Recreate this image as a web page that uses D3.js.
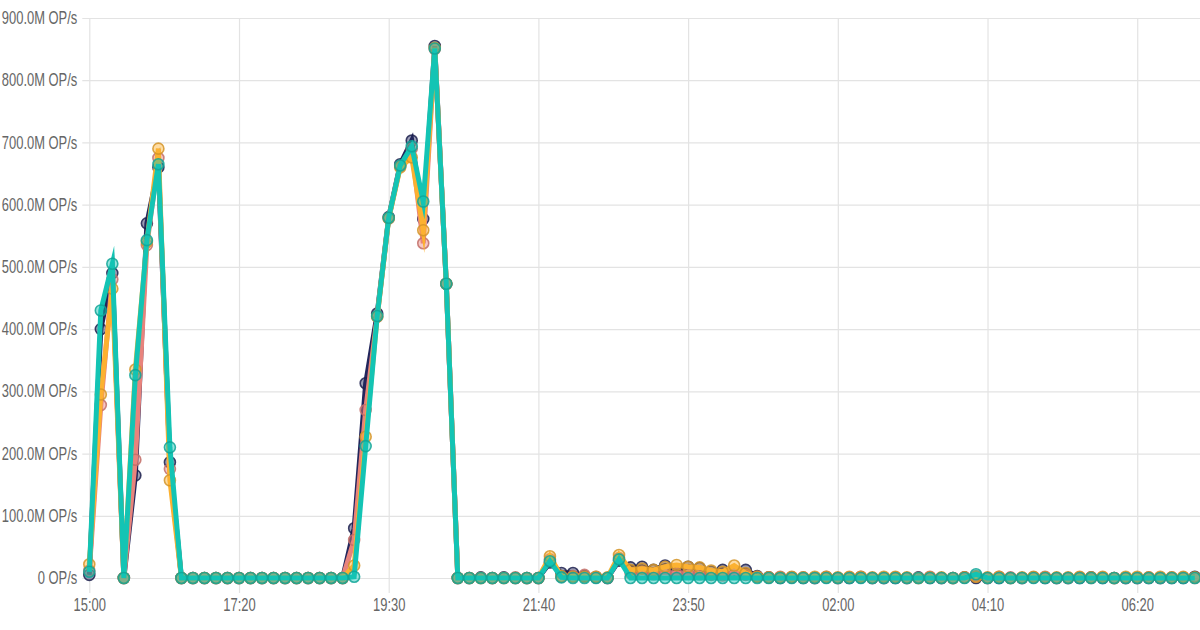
<!DOCTYPE html>
<html>
<head>
<meta charset="utf-8">
<script src="https://cdn.jsdelivr.net/npm/d3@7"></script>
<style>
  html, body { margin: 0; padding: 0; background: #ffffff; }
  svg { display: block; }
  .tick text { font-family: "Liberation Sans", Arial, sans-serif; }
</style>
</head>
<body>
<svg id="chart" width="1200" height="630"></svg>
<script>
// Time ticks (index of 10-minute sample) and their labels
const tickIndex = [0, 13, 26, 39, 52, 65, 78, 91];
const tickLabels = ["15:00", "17:20", "19:30", "21:40", "23:50", "02:00", "04:10", "06:20"];
const yTicks = [0, 100, 200, 300, 400, 500, 600, 700, 800, 900]; // millions OP/s

const seriesNames = ["navy", "salmon", "orange", "teal"];
const seriesColors = ["#22265c", "#e8837c", "#fcb130", "#13c4b4"];

// values in millions of OP/s, one per 10-minute sample (97 samples)
const navy = [5,400,490,0,165,570,660,186,0,0, 0,0,0,0,0,0,0,0,0,0, 0,0,0,80,313,425,580,665,703,577, 855,473,0,0,1,0,1,0,0,0, 25,8,8,3,1,0,28,17,18,13, 20,12,18,16,10,13,8,13,3,1, 0,1,0,0,1,0,0,1,0,0, 0,0,1,0,0,0,1,0,0,0, 0,0,1,0,0,0,0,1,0,0, 0,0,0,0,0,0,2];
const salmon = [12,278,480,0,190,535,675,175,0,0, 0,0,0,0,0,0,0,0,0,0, 0,0,0,61,270,420,578,662,690,538, 850,473,0,0,0,0,0,1,0,0, 30,2,3,5,2,0,32,8,10,6, 9,7,8,6,5,4,9,5,2,1, 2,1,1,0,2,0,1,2,0,0, 1,0,0,2,0,0,1,3,0,2, 1,0,1,2,0,0,1,0,1,0, 0,0,1,0,1,1,0];
const orange = [22,295,465,0,335,540,690,157,0,0, 0,0,0,0,0,0,0,0,0,0, 0,0,0,20,227,420,578,660,676,559, 852,473,0,0,0,0,0,0,0,0, 35,3,2,2,2,1,37,13,15,13, 18,21,18,17,12,10,20,8,2,1, 1,2,1,2,2,1,2,2,1,2, 2,1,0,1,1,0,1,2,1,2, 0,1,2,1,1,1,2,1,2,0, 2,2,1,2,1,2,1];
const teal = [10,430,505,0,326,543,665,210,0,0, 0,0,0,0,0,0,0,0,0,0, 0,0,0,2,212,421,579,663,694,605, 851,473,0,0,0,0,0,0,0,0, 27,1,0,0,0,0,30,0,0,0, 0,0,0,0,0,0,0,0,0,0, 0,0,0,0,0,0,0,0,0,0, 0,0,0,0,0,0,0,6,0,0, 0,0,0,0,0,0,0,0,0,0, 0,0,0,0,0,0,0];

const seriesValues = [navy, salmon, orange, teal];

const svg = d3.select("#chart");
const plotLeft = 89.3, plotRight = 1194.8, plotTop = 18, plotBottom = 578;
const squeeze = 0.74; // narrow label glyphs like the reference font

const x = d3.scaleLinear().domain([0, navy.length - 1]).range([plotLeft, plotRight]);
const y = d3.scaleLinear().domain([0, 900]).range([plotBottom, plotTop]);

const fmt = v => v === 0 ? "0 OP/s" : v.toFixed(1) + "M OP/s";

// horizontal grid + y labels
const yAxis = d3.axisLeft(y).tickValues(yTicks).tickFormat(fmt).tickSize(0).tickPadding(5);
const gy = svg.append("g").attr("transform", `translate(${plotLeft - 7},0)`).call(yAxis);
gy.select(".domain").remove();
gy.selectAll(".tick line").attr("x1", 0).attr("x2", 1200 - plotLeft + 7)
  .attr("stroke", "#e3e3e3").attr("stroke-width", 1.2);
gy.selectAll(".tick text").attr("fill", "#666").attr("font-size", 17.5)
  .attr("x", -5 / squeeze).attr("transform", `scale(${squeeze},1)`);

// vertical grid + x labels
const xAxis = d3.axisBottom(x).tickValues(tickIndex)
  .tickFormat((d, i) => tickLabels[i]).tickSize(0).tickPadding(21);
const gx = svg.append("g").attr("transform", `translate(0,${plotBottom})`).call(xAxis);
gx.select(".domain").remove();
gx.selectAll(".tick line").attr("y1", -(plotBottom - plotTop)).attr("y2", 15)
  .attr("stroke", "#e3e3e3").attr("stroke-width", 1.2);
gx.selectAll(".tick text").attr("fill", "#666").attr("font-size", 17.5)
  .attr("transform", `scale(${squeeze},1)`);

// series
const line = d3.line().x((d, i) => x(i)).y(d => y(d));
seriesValues.forEach((vals, s) => {
  const g = svg.append("g").attr("class", "series-" + seriesNames[s]);
  g.append("path").datum(vals)
    .attr("d", line)
    .attr("fill", "none")
    .attr("stroke", seriesColors[s])
    .attr("stroke-width", 5)
    .attr("stroke-linejoin", "miter")
    .attr("stroke-miterlimit", 10);
  g.selectAll("circle").data(vals).join("circle")
    .attr("cx", (d, i) => x(i))
    .attr("cy", d => y(d))
    .attr("r", 5.5)
    .attr("fill", seriesColors[s])
    .attr("fill-opacity", 0.45)
    .attr("stroke", d3.color(seriesColors[s]).darker(0.5))
    .attr("stroke-opacity", 0.85)
    .attr("stroke-width", 1.6);
});
</script>
</body>
</html>
